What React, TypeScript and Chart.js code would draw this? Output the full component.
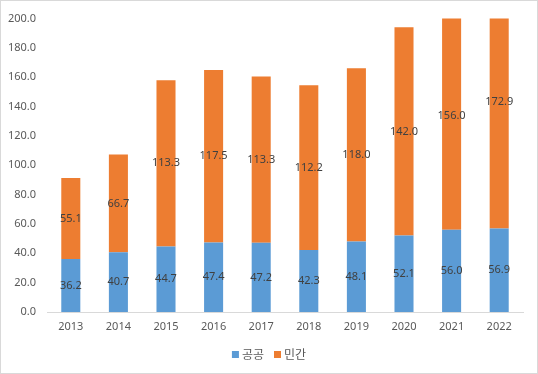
import React, { useEffect, useRef } from "react";
import { Chart, registerables } from "chart.js";

Chart.register(...registerables);

const years = ["2013", "2014", "2015", "2016", "2017", "2018", "2019", "2020", "2021", "2022"];
const publicValues = [36.2, 40.7, 44.7, 47.4, 47.2, 42.3, 48.1, 52.1, 56.0, 56.9];
const privateValues = [55.1, 66.7, 113.3, 117.5, 113.3, 112.2, 118.0, 142.0, 156.0, 172.9];
const seriesNames = ["공공", "민간"];
const seriesColors = ["#5B9BD5", "#ED7D31"];
const yMin = 0;
const yMax = 200;
const yStep = 20;

const NUM_FONT = "'Noto Sans', sans-serif";
const KR_FONT = "'Noto Sans CJK KR', 'Noto Sans', sans-serif";

const valueLabels = {
  id: "valueLabels",
  afterDatasetsDraw(chart: any) {
    const ctx = chart.ctx;
    ctx.save();
    ctx.font = `11px ${NUM_FONT}`;
    ctx.fillStyle = "#404040";
    ctx.textAlign = "center";
    ctx.textBaseline = "middle";
    chart.data.datasets.forEach((ds: any, di: number) => {
      const meta = chart.getDatasetMeta(di);
      if (meta.hidden) return;
      meta.data.forEach((el: any, i: number) => {
        const p = el.getProps(["x", "y", "base"], true);
        const v = ds.data[i];
        ctx.fillText(Number(v).toFixed(1), p.x, (p.y + p.base) / 2);
      });
    });
    ctx.restore();
  },
};

const customLegend = {
  id: "customLegend",
  afterDraw(chart: any) {
    const ctx = chart.ctx;
    ctx.save();
    ctx.font = `12px ${KR_FONT}`;
    ctx.textBaseline = "middle";
    ctx.textAlign = "left";
    const box = 7;
    const gapBoxText = 3;
    const gapItems = 10;
    const items = chart.data.datasets.map((ds: any) => ({
      label: ds.label,
      color: ds.backgroundColor,
      w: ctx.measureText(ds.label).width,
    }));
    const total =
      items.reduce((s: number, it: any) => s + box + gapBoxText + it.w, 0) +
      gapItems * (items.length - 1);
    let x = chart.width / 2 - total / 2;
    const cy = 353.5;
    items.forEach((it: any) => {
      ctx.fillStyle = it.color;
      ctx.fillRect(x, cy - box / 2, box, box);
      x += box + gapBoxText;
      ctx.fillStyle = "#595959";
      ctx.fillText(it.label, x, cy);
      x += it.w + gapItems;
    });
    ctx.restore();
  },
};

export default function App() {
  const ref = useRef<HTMLCanvasElement | null>(null);

  useEffect(() => {
    document.body.style.margin = "0";
    if (!ref.current) return;
    const chart = new Chart(ref.current, {
      type: "bar",
      data: {
        labels: years,
        datasets: [
          {
            label: seriesNames[0],
            data: publicValues,
            backgroundColor: seriesColors[0],
            categoryPercentage: 1,
            barPercentage: 0.4,
          },
          {
            label: seriesNames[1],
            data: privateValues,
            backgroundColor: seriesColors[1],
            categoryPercentage: 1,
            barPercentage: 0.4,
          },
        ],
      },
      options: {
        animation: false,
        responsive: false,
        maintainAspectRatio: false,
        layout: { padding: { left: 0, right: 14, top: 14, bottom: 31 } },
        plugins: {
          legend: { display: false },
          tooltip: { enabled: false },
          title: { display: false },
        },
        scales: {
          x: {
            stacked: true,
            grid: { display: false, drawTicks: false },
            border: { display: true, color: "#D9D9D9", width: 1 },
            ticks: { color: "#595959", font: { family: NUM_FONT, size: 11 }, padding: 8 },
            afterFit(scale: any) {
              scale.height = 30;
            },
          },
          y: {
            stacked: true,
            min: yMin,
            max: yMax,
            grid: { display: false, drawTicks: false },
            border: { display: false },
            ticks: {
              stepSize: yStep,
              color: "#595959",
              font: { family: NUM_FONT, size: 11 },
              padding: 11,
              callback: (v: any) => Number(v).toFixed(1),
            },
            afterFit(scale: any) {
              scale.width = 46;
            },
          },
        },
      },
      plugins: [valueLabels, customLegend],
    });
    return () => chart.destroy();
  }, []);

  return (
    <div
      style={{
        width: 538,
        height: 374,
        border: "1px solid #D9D9D9",
        boxSizing: "border-box",
        background: "#fff",
      }}
    >
      <canvas ref={ref} width={536} height={372} style={{ display: "block" }} />
    </div>
  );
}
